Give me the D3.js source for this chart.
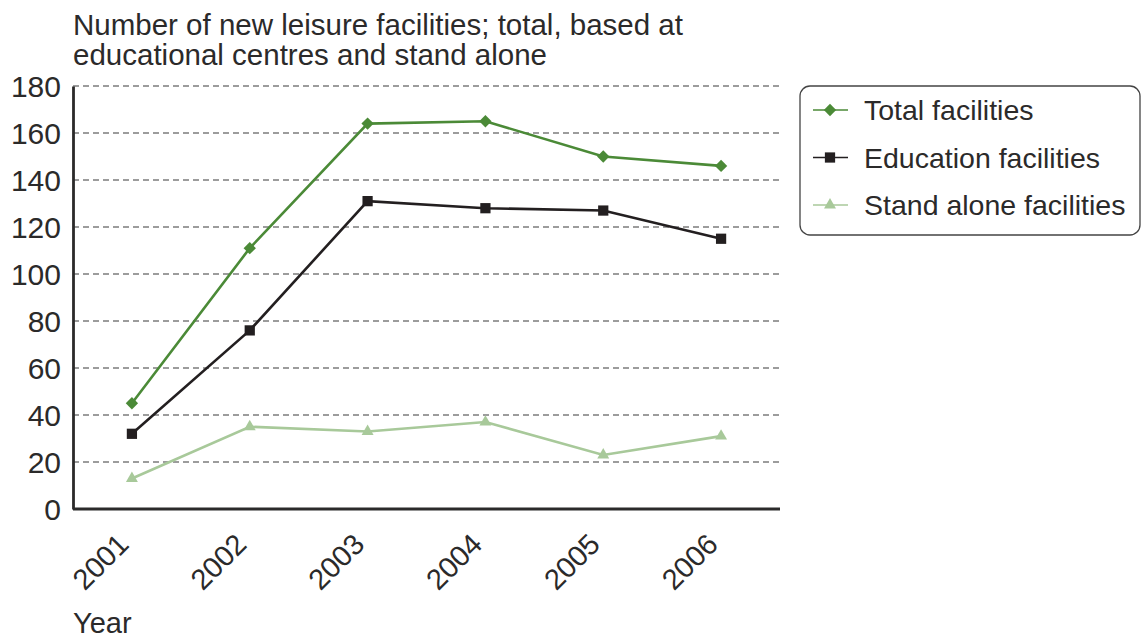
<!DOCTYPE html>
<html>
<head>
<meta charset="utf-8">
<script src="https://cdn.jsdelivr.net/npm/d3@7"></script>
<style>
  html, body { margin: 0; padding: 0; background: #fff; }
  svg { display: block; font-family: "Liberation Sans", Arial, Helvetica, sans-serif; }
</style>
</head>
<body>
<svg id="chart" width="1142" height="640"></svg>
<script>
// Data
const years = ["2001", "2002", "2003", "2004", "2005", "2006"];
const totalFacilities = [45, 111, 164, 165, 150, 146];
const educationFacilities = [32, 76, 131, 128, 127, 115];
const standAloneFacilities = [13, 35, 33, 37, 23, 31];
const yTicks = [0, 20, 40, 60, 80, 100, 120, 140, 160, 180];
const seriesNames = ["Total facilities", "Education facilities", "Stand alone facilities"];

const series = [
  { name: seriesNames[0], values: totalFacilities, color: "#4b8a37", symbol: d3.symbolSquare, size: 76, rot: 45 },
  { name: seriesNames[1], values: educationFacilities, color: "#231f20", symbol: d3.symbolSquare, size: 105, rot: 0 },
  { name: seriesNames[2], values: standAloneFacilities, color: "#a8c99a", symbol: d3.symbolTriangle, size: 62, rot: 0 }
];

const svg = d3.select("#chart");
const textColor = "#2b2a2a";
const margin = { left: 73, right: 780, top: 86, bottom: 509 };

const x = d3.scalePoint().domain(years).range([margin.left, margin.right]).padding(0.5);
const y = d3.scaleLinear().domain([0, 180]).range([margin.bottom, margin.top]);

// Title
const title = svg.append("text")
  .attr("fill", textColor)
  .style("font-size", "29.5px");
title.append("tspan").attr("x", 73).attr("y", 35).text("Number of new leisure facilities; total, based at");
title.append("tspan").attr("x", 73).attr("y", 65).text("educational centres and stand alone");

// Gridlines
svg.append("g").selectAll("line")
  .data(yTicks.filter(d => d > 0))
  .join("line")
  .attr("x1", margin.left).attr("x2", margin.right)
  .attr("y1", d => y(d)).attr("y2", d => y(d))
  .attr("stroke", "#3a3a3a")
  .attr("stroke-width", 1.2)
  .attr("stroke-dasharray", "6,4");

// Y axis
const yAxis = svg.append("g")
  .attr("transform", `translate(${margin.left},0)`)
  .call(d3.axisLeft(y).tickValues(yTicks).tickSize(0).tickPadding(12));
yAxis.select(".domain").attr("stroke", textColor).attr("stroke-width", 2.8);
yAxis.selectAll("text")
  .attr("fill", textColor)
  .attr("font-family", "Liberation Sans, Arial, sans-serif")
  .style("font-size", "30px")
  .attr("dy", "0.36em");

// X axis
const xAxis = svg.append("g")
  .attr("transform", `translate(0,${margin.bottom})`)
  .call(d3.axisBottom(x).tickSize(0).tickPadding(0));
xAxis.select(".domain").attr("stroke", textColor).attr("stroke-width", 2.8)
  .attr("d", `M${margin.left},0H${margin.right}`);
xAxis.selectAll("text")
  .attr("fill", textColor)
  .attr("font-family", "Liberation Sans, Arial, sans-serif")
  .style("font-size", "29px")
  .attr("text-anchor", "end")
  .attr("y", 0)
  .attr("dy", null)
  .attr("transform", "translate(-2,37) rotate(-45)");

// Axis title
svg.append("text")
  .attr("x", 73).attr("y", 633)
  .attr("fill", textColor)
  .style("font-size", "29px")
  .text("Year");

// Lines and markers
const line = d3.line().x((d, i) => x(years[i])).y(d => y(d));

series.forEach(s => {
  svg.append("path")
    .datum(s.values)
    .attr("d", line)
    .attr("fill", "none")
    .attr("stroke", s.color)
    .attr("stroke-width", 2.6);
  svg.append("g").selectAll("path")
    .data(s.values)
    .join("path")
    .attr("d", d3.symbol().type(s.symbol).size(s.size))
    .attr("transform", (d, i) => `translate(${x(years[i])},${y(d)}) rotate(${s.rot})`)
    .attr("fill", s.color);
});

// Legend
const legend = svg.append("g");
legend.append("rect")
  .attr("x", 800).attr("y", 86)
  .attr("width", 340).attr("height", 149)
  .attr("rx", 10).attr("ry", 10)
  .attr("fill", "#fff")
  .attr("stroke", "#444")
  .attr("stroke-width", 1.3);

series.forEach((s, i) => {
  const cy = 110 + i * 47.5;
  const g = legend.append("g");
  g.append("line")
    .attr("x1", 813).attr("x2", 848)
    .attr("y1", cy).attr("y2", cy)
    .attr("stroke", s.color).attr("stroke-width", 1.6);
  g.append("path")
    .attr("d", d3.symbol().type(s.symbol).size(s.size))
    .attr("transform", `translate(830,${cy}) rotate(${s.rot})`)
    .attr("fill", s.color);
  g.append("text")
    .attr("x", 864).attr("y", cy + 10)
    .attr("fill", textColor)
    .style("font-size", "28.5px")
    .text(s.name);
});
</script>
</body>
</html>
